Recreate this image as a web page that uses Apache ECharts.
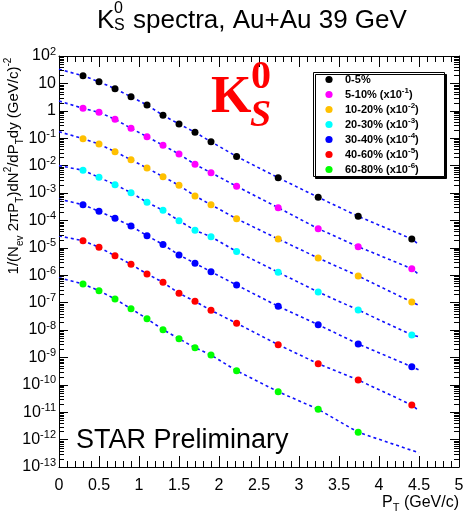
<!DOCTYPE html>
<html><head><meta charset="utf-8">
<script src="https://cdn.jsdelivr.net/npm/echarts@6/dist/echarts.min.js"></script>
<style>html,body{margin:0;padding:0;background:#fff}#c{width:467px;height:514px}</style>
</head><body><div id="c"></div>
<script>
// ---- data ----
const pT = [0.3, 0.5, 0.7, 0.9, 1.1, 1.3, 1.5, 1.7, 1.9, 2.22, 2.74, 3.24, 3.74, 4.41];
const centralities = ['0-5%', '5-10%', '10-20%', '20-30%', '30-40%', '40-60%', '60-80%'];
const scaleExp = [0, -1, -2, -3, -4, -5, -6];
const colors = ['#000000', '#ff00ff', '#ffc000', '#00ffff', '#0000ff', '#ff0000', '#00ff00'];

const y0_5   = [19.1, 11.5, 6.4, 3.27, 1.63, 0.685, 0.33, 0.164, 0.0745, 0.0215, 0.00361, 6.97e-4, 1.41e-4, 2.1e-5];
const y5_10  = [1.23, 0.88, 0.49, 0.23, 0.1135, 0.055, 0.0265, 0.0111, 0.0055, 0.00176, 2.91e-4, 4.98e-5, 1.1e-5, 1.73e-6];
const y10_20 = [0.096, 0.0614, 0.0321, 0.0164, 0.00817, 0.00394, 0.00191, 7.78e-4, 3.74e-4, 1.15e-4, 2.1e-5, 4.25e-6, 9.35e-7, 1.05e-7];
const y20_30 = [6.73e-3, 3.74e-3, 2.01e-3, 1.03e-3, 4.58e-4, 2.34e-4, 9.75e-5, 4.35e-5, 2.54e-5, 7.33e-6, 1.28e-6, 2.44e-7, 5.37e-8, 6.6e-9];
const y30_40 = [3.74e-4, 2.15e-4, 1.19e-4, 6.25e-5, 2.77e-5, 1.32e-5, 5.46e-6, 2.74e-6, 1.34e-6, 4.39e-7, 7.33e-8, 1.56e-8, 3.09e-9, 4.57e-10];
const y40_60 = [1.82e-5, 1.04e-5, 5.15e-6, 2.5e-6, 1.11e-6, 5.5e-7, 2.18e-7, 1.11e-7, 5.23e-8, 1.76e-8, 2.91e-9, 5.89e-10, 1.5e-10, 1.83e-11];
const y60_80 = [4.78e-7, 2.72e-7, 1.35e-7, 5.98e-8, 2.58e-8, 1.03e-8, 4.81e-9, 2.26e-9, 1.22e-9, 3.27e-10, 5.6e-11, 1.28e-11, 1.85e-12];

// fit curves: value read at pT = 0 and at the curve end
const fitStartPt = 0;
const fitEndPt = 4.5;
const fitStart = [32.7, 2.28, 0.173, 0.01, 6.0e-4, 2.7e-5, 8.1e-7];
const fitEnd   = [1.3e-5, 1.04e-6, 8e-8, 5.7e-9, 3.47e-10, 1.13e-11, 3.3e-13];

const allY = [y0_5, y5_10, y10_20, y20_30, y30_40, y40_60, y60_80];

// ---- build ----
const SANS = 'Liberation Sans, Arial, sans-serif';
function seriesName(i) {
  return scaleExp[i] === 0 ? centralities[i] : centralities[i] + ' (x10^' + scaleExp[i] + ')';
}
const series = [];
allY.forEach((vals, i) => {
  const pts = vals.map((v, j) => [pT[j], v]);
  series.push({
    type: 'line', name: 'fit' + i, silent: true, z: 2,
    data: [[fitStartPt, fitStart[i]]].concat(pts).concat([[fitEndPt, fitEnd[i]]]),
    showSymbol: false, smooth: false,
    lineStyle: { color: '#1010ff', width: 1.6, type: [3, 3] }
  });
});
allY.forEach((vals, i) => {
  series.push({
    type: 'scatter', name: seriesName(i), z: 5,
    data: vals.map((v, j) => [pT[j], v]),
    symbol: 'circle', symbolSize: 7,
    itemStyle: { color: colors[i], opacity: 1 }
  });
});
// log minor ticks (2..9 x 10^n) on left and right frames
const minorVals = [];
for (let n = -13; n < 2; n++) for (let k = 2; k <= 9; k++) minorVals.push([0, k * Math.pow(10, n)]);
series.push({
  type: 'custom', name: 'minor', silent: true, z: 6,
  data: minorVals,
  encode: { x: 0, y: 1 },
  renderItem: function (params, api) {
    const v = api.value(1);
    const a = api.coord([0, v]);
    const b = api.coord([5, v]);
    const y = Math.round(a[1]) + 0.5;
    return { type: 'group', children: [
      { type: 'line', shape: { x1: a[0], y1: y, x2: a[0] + 5, y2: y }, style: { stroke: '#000', lineWidth: 1 } },
      { type: 'line', shape: { x1: b[0] - 5, y1: y, x2: b[0], y2: y }, style: { stroke: '#000', lineWidth: 1 } }
    ] };
  }
});

const xCommon = {
  type: 'value', min: 0, max: 5, interval: 0.5,
  splitLine: { show: false },
  axisLine: { show: true, onZero: false, lineStyle: { color: '#000', width: 1 } },
  axisTick: { show: true, inside: true, length: 11, lineStyle: { color: '#000' } },
  minorTick: { show: true, splitNumber: 5, length: 6, lineStyle: { color: '#000' } }
};
const yCommon = {
  type: 'log', logBase: 10, min: 1e-13, max: 100, splitNumber: 15, interval: 1,
  splitLine: { show: false },
  axisLine: { show: true, onZero: false, lineStyle: { color: '#000', width: 1 } },
  axisTick: { show: true, inside: true, length: 9, lineStyle: { color: '#000' } }
};

// legend drawn as graphic elements (frame, markers, labels)
const legendX = 313, legendY = 72, legendW = 131, legendH = 104, rowH = 15;
const legendGraphics = [
  { type: 'rect', z: 15, shape: { x: legendX + 0.5, y: legendY + 0.5, width: legendW, height: legendH },
    style: { fill: '#fff', stroke: '#000', lineWidth: 1, shadowColor: '#000', shadowOffsetX: 2, shadowOffsetY: 2, shadowBlur: 0 } }
];
centralities.forEach((c, i) => {
  const cy = legendY + 7.5 + rowH * i;
  legendGraphics.push({ type: 'circle', z: 16, shape: { cx: legendX + 16, cy: cy, r: 3.6 }, style: { fill: colors[i] } });
  const txt = scaleExp[i] === 0 ? '{t|' + c + '}' : '{t|' + c + ' (x10}{s|' + scaleExp[i] + '}{t|)}';
  legendGraphics.push({ type: 'text', z: 16, x: legendX + 32, y: cy, style: {
    text: txt, align: 'left', verticalAlign: 'middle',
    rich: {
      t: { fontSize: 11, fontWeight: 'bold', lineHeight: 15, fontFamily: SANS, color: '#000' },
      s: { fontSize: 8, fontWeight: 'bold', lineHeight: 9, verticalAlign: 'top', fontFamily: SANS, color: '#000' }
    } } });
});

const option = {
  backgroundColor: '#fff',
  animation: false,
  grid: { left: 59, right: 8, top: 56, bottom: 47, containLabel: false },
  xAxis: [
    Object.assign({}, xCommon, {
      position: 'bottom',
      axisLabel: { show: true, color: '#000', fontFamily: SANS, fontSize: 16, margin: 11 }
    }),
    Object.assign({}, xCommon, { position: 'top', axisLabel: { show: false } })
  ],
  yAxis: [
    Object.assign({}, yCommon, {
      position: 'left',
      axisLabel: {
        show: true, margin: 3, color: '#000', fontFamily: SANS, showMinLabel: true, showMaxLabel: true, hideOverlap: false, interval: 0,
        formatter: function (v) {
          const e = Math.round(Math.log10(v));
          if (e === 0) return '{b|1}';
          if (e === 1) return '{b|10}';
          return '{b|10}{s|' + e + '}';
        },
        rich: {
          b: { fontSize: 16, lineHeight: 20, fontFamily: SANS, color: '#000' },
          s: { fontSize: 11, lineHeight: 11, verticalAlign: 'top', fontFamily: SANS, color: '#000' }
        }
      }
    }),
    Object.assign({}, yCommon, { position: 'right', axisLabel: { show: false } })
  ],
  graphic: legendGraphics.concat([
    // title
    { type: 'text', z: 20, x: 97, y: 21, style: { text: 'K', font: '26px ' + SANS, fill: '#000', verticalAlign: 'middle', align: 'left' } },
    { type: 'text', z: 20, x: 114, y: 9, style: { text: '0', font: '16px ' + SANS, fill: '#000', verticalAlign: 'middle', align: 'left' } },
    { type: 'text', z: 20, x: 114, y: 26, style: { text: 'S', font: '16px ' + SANS, fill: '#000', verticalAlign: 'middle', align: 'left' } },
    { type: 'text', z: 20, x: 133, y: 21, style: { text: 'spectra, Au+Au 39 GeV', font: '26px ' + SANS, fill: '#000', verticalAlign: 'middle', align: 'left' } },
    // big red K0S
    { type: 'text', z: 20, x: 211, y: 99, style: { text: 'K', font: 'bold 52px "Liberation Serif", serif', fill: '#ff0000', verticalAlign: 'middle', align: 'left' } },
    { type: 'text', z: 20, x: 251, y: 78, style: { text: '0', font: 'bold 40px "Liberation Serif", serif', fill: '#ff0000', verticalAlign: 'middle', align: 'left' } },
    { type: 'text', z: 20, x: 250, y: 116, style: { text: 'S', font: 'italic bold 38px "Liberation Serif", serif', fill: '#ff0000', verticalAlign: 'middle', align: 'left' } },
    // STAR Preliminary
    { type: 'text', z: 20, x: 76, y: 441, style: { text: 'STAR Preliminary', font: '27px ' + SANS, fill: '#000', verticalAlign: 'middle', align: 'left' } },
    // x-axis title
    { type: 'text', z: 20, x: 459, y: 503, style: {
        text: '{b|P}{u|T}{b| (GeV/c)}', align: 'right', verticalAlign: 'middle',
        rich: {
          b: { fontSize: 16, lineHeight: 20, fontFamily: SANS, color: '#000' },
          u: { fontSize: 11, lineHeight: 11, verticalAlign: 'bottom', fontFamily: SANS, color: '#000' }
        } } },
    // y-axis title (rotated)
    { type: 'text', z: 20, x: 14, y: 166, rotation: Math.PI / 2, style: {
        text: '{b|1/(N}{u|ev}{b| 2πP}{u|T}{b|)dN}{p|2}{b|/dP}{u|T}{b|dy (GeV/c)}{p|-2}',
        align: 'center', verticalAlign: 'middle',
        rich: {
          b: { fontSize: 15, lineHeight: 22, fontFamily: SANS, color: '#000' },
          u: { fontSize: 10, lineHeight: 10, verticalAlign: 'bottom', fontFamily: SANS, color: '#000' },
          p: { fontSize: 10, lineHeight: 10, verticalAlign: 'top', fontFamily: SANS, color: '#000' }
        } } }
  ]),
  series: series
};

const chart = echarts.init(document.getElementById('c'), null, { renderer: 'canvas' });
chart.setOption(option);
</script></body></html>
